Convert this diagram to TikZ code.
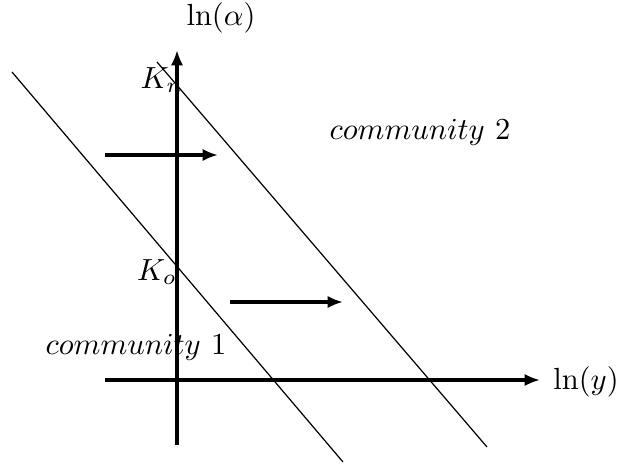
\documentclass[tikz,border=0pt]{standalone}
\usepackage{amsmath,amssymb}
\usepackage{tikz}
\usetikzlibrary{arrows.meta,calc,positioning}

\tikzset{
  axis/.style={line width=1.1pt,-{Latex[length=5pt,width=4pt]}},
  shift arrow/.style={line width=1.1pt,-{Latex[length=5pt,width=4pt]}},
  border/.style={line width=0.4pt},
  lbl/.style={inner sep=1pt},
}

\begin{document}
\begin{tikzpicture}[x=0.115mm,y=-0.115mm,font=\normalsize]
  \path[use as bounding box] (0,0) rectangle (618,464);

  % axes
  \coordinate (yb) at (177,445);
  \coordinate (yt) at (177,50);
  \coordinate (xl) at (105,380);
  \coordinate (xr) at (540,380);
  \draw[axis] (yb) -- (yt);
  \draw[axis] (xl) -- (xr);
  \node[lbl] (lnalpha) at (221,18) {$\ln(\alpha)$};
  \node[lbl] (lny) at (586,382) {$\ln(y)$};

  % the two boundary lines
  \coordinate (a1) at (12,72);
  \coordinate (a2) at (343,462);
  \coordinate (b1) at (157,62);
  \coordinate (b2) at (487,447);
  \draw[border] (a1) -- (a2);
  \draw[border] (b1) -- (b2);
  \node[lbl] (kn) at (162,80) {$K_n$};
  \node[lbl] (ko) at (157,272) {$K_o$};

  % shift arrows
  \coordinate (s1) at (105,155);
  \coordinate (e1) at (218,155);
  \coordinate (s2) at (230,302);
  \coordinate (e2) at (343,302);
  \draw[shift arrow] (s1) -- (e1);
  \draw[shift arrow] (s2) -- (e2);

  \node[lbl] (comm2) at (420,132) {$community\ 2$};
  \node[lbl] (comm1) at (136,347) {$community\ 1$};
\end{tikzpicture}
\end{document}
